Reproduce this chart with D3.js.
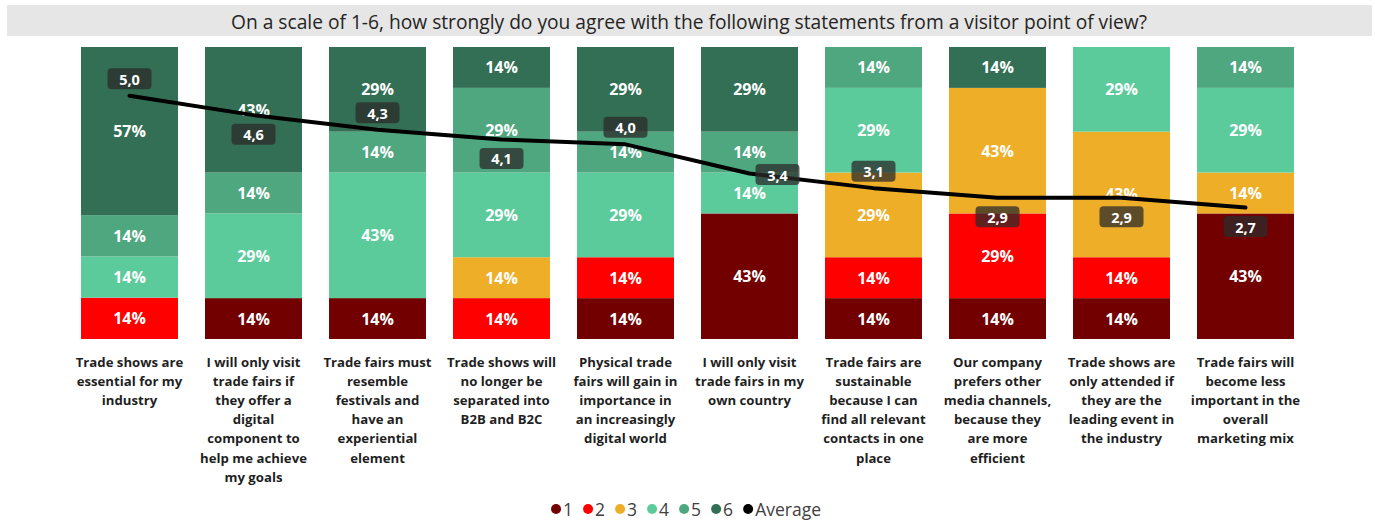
<!DOCTYPE html>
<html>
<head>
<meta charset="utf-8">
<script src="https://cdn.jsdelivr.net/npm/d3@7"></script>
<style>
  html, body { margin: 0; padding: 0; background: #fff; }
  svg { display: block; }
</style>
</head>
<body>
<svg id="chart" width="1375" height="520"></svg>
<script>
// ---- data ----
const title = "On a scale of 1-6, how strongly do you agree with the following statements from a visitor point of view?";

const categories = [
  "Trade shows are\nessential for my\nindustry",
  "I will only visit\ntrade fairs if\nthey offer a\ndigital\ncomponent to\nhelp me achieve\nmy goals",
  "Trade fairs must\nresemble\nfestivals and\nhave an\nexperiential\nelement",
  "Trade shows will\nno longer be\nseparated into\nB2B and B2C",
  "Physical trade\nfairs will gain in\nimportance in\nan increasingly\ndigital world",
  "I will only visit\ntrade fairs in my\nown country",
  "Trade fairs are\nsustainable\nbecause I can\nfind all relevant\ncontacts in one\nplace",
  "Our company\nprefers other\nmedia channels,\nbecause they\nare more\nefficient",
  "Trade shows are\nonly attended if\nthey are the\nleading event in\nthe industry",
  "Trade fairs will\nbecome less\nimportant in the\noverall\nmarketing mix"
];

const ratingKeys = ["1", "2", "3", "4", "5", "6"];

// share of answers (%) per rating, one value per statement
const rating1 = [0, 14, 14, 0, 14, 43, 14, 14, 14, 43];
const rating2 = [14, 0, 0, 14, 14, 0, 14, 29, 14, 0];
const rating3 = [0, 0, 0, 14, 0, 0, 29, 43, 43, 14];
const rating4 = [14, 29, 43, 29, 29, 14, 29, 0, 29, 29];
const rating5 = [14, 14, 14, 29, 14, 14, 14, 0, 0, 14];
const rating6 = [57, 43, 29, 14, 29, 29, 0, 14, 0, 0];

// mean rating per statement
const averages = [5.0, 4.6, 4.3, 4.1, 4.0, 3.4, 3.1, 2.9, 2.9, 2.7];

const legendLabels = ["1", "2", "3", "4", "5", "6", "Average"];

// ---- drawing ----
const FONT = "'Open Sans', 'Noto Sans', sans-serif";
const colors = {
  "1": "#730000",
  "2": "#fe0000",
  "3": "#efae27",
  "4": "#5ccb9b",
  "5": "#4fa780",
  "6": "#326f54",
  "Average": "#000000"
};

const svg = d3.select("#chart");

const ratingCols = [rating1, rating2, rating3, rating4, rating5, rating6];
const rows = categories.map((c, i) => {
  const r = { idx: i, category: c };
  ratingKeys.forEach((k, j) => { r[k] = ratingCols[j][i]; });
  return r;
});

// each column is normalised to its full height
const stack = d3.stack().keys(ratingKeys).offset(d3.stackOffsetExpand);
const layers = stack(rows);

const plotTop = 47, plotBottom = 339;
const x = d3.scaleBand()
  .domain(d3.range(categories.length))
  .range([67.5, 1307.5])
  .paddingInner(0.218)
  .paddingOuter(0.109);
const y = d3.scaleLinear().domain([0, 1]).range([plotBottom, plotTop]);
const yAvg = d3.scaleLinear().domain([0, 6]).range([plotBottom, plotTop]);

// title band
svg.append("rect")
  .attr("x", 7).attr("y", 5).attr("width", 1365).attr("height", 31)
  .attr("fill", "#e6e6e6");
const titleText = svg.append("text")
  .attr("x", 689).attr("y", 21)
  .attr("text-anchor", "middle").attr("dominant-baseline", "central")
  .attr("font-family", FONT).attr("font-size", 17)
  .attr("fill", "#252423")
  .text(title);
{
  const w = titleText.node().getComputedTextLength();
  const target = 916;
  titleText.attr("font-size", (17 * target / w).toFixed(2));
}

// stacked segments
const gBars = svg.append("g");
layers.forEach(layer => {
  const key = layer.key;
  const g = gBars.append("g").attr("fill", colors[key]);
  g.selectAll("rect")
    .data(layer)
    .join("rect")
    .attr("x", d => x(d.data.idx))
    .attr("width", x.bandwidth())
    .attr("y", d => y(d[1]))
    .attr("height", d => Math.max(0, y(d[0]) - y(d[1])));
});

// segment value labels
const gSegLabels = svg.append("g")
  .attr("font-family", FONT).attr("font-weight", 700)
  .attr("font-size", 16).attr("fill", "#ffffff")
  .attr("text-anchor", "middle");
layers.forEach(layer => {
  const key = layer.key;
  gSegLabels.selectAll(null)
    .data(layer.filter(d => d.data[key] > 0))
    .join("text")
    .attr("x", d => x(d.data.idx) + x.bandwidth() / 2)
    .attr("y", d => (y(d[0]) + y(d[1])) / 2)
    .attr("dominant-baseline", "central")
    .text(d => d.data[key] + "%");
});

// average line
const cx = i => x(i) + x.bandwidth() / 2;
const line = d3.line()
  .x((d, i) => cx(i))
  .y(d => yAvg(d));
svg.append("path")
  .datum(averages)
  .attr("d", line)
  .attr("fill", "none")
  .attr("stroke", "#000")
  .attr("stroke-width", 4)
  .attr("stroke-linejoin", "round")
  .attr("stroke-linecap", "round");

// average value labels (placed to keep clear of the line)
const avgPlacement = ["above", "below", "above", "below", "above", "right", "above", "below", "below", "below"];
const fmt = v => d3.format(".1f")(v).replace(".", ",");
const gAvg = svg.append("g");
averages.forEach((v, i) => {
  const p = avgPlacement[i];
  let lx = cx(i), ly = yAvg(v);
  if (p === "above") ly -= 17;
  else if (p === "below") ly += 19;
  else if (p === "right") { lx += 28; ly += 1; }
  const bw = 44, bh = 21;
  gAvg.append("rect")
    .attr("x", lx - bw / 2).attr("y", ly - bh / 2)
    .attr("width", bw).attr("height", bh)
    .attr("rx", 4)
    .attr("fill", "#2b2b2b").attr("fill-opacity", 0.75);
  gAvg.append("text")
    .attr("x", lx).attr("y", ly + 0.5)
    .attr("text-anchor", "middle").attr("dominant-baseline", "central")
    .attr("font-family", FONT).attr("font-weight", 700).attr("font-size", 14.5)
    .attr("fill", "#fff")
    .text(fmt(v));
});

// category axis labels
const gCat = svg.append("g")
  .attr("font-family", FONT).attr("font-weight", 700)
  .attr("font-size", 13.2).attr("fill", "#1f1f1f")
  .attr("text-anchor", "middle");
categories.forEach((c, i) => {
  const t = gCat.append("text").attr("x", cx(i)).attr("y", 362);
  c.split("\n").forEach((ln, k) => {
    t.append("tspan")
      .attr("x", cx(i))
      .attr("y", 362 + k * 19.1)
      .attr("dominant-baseline", "central")
      .text(ln);
  });
});

// legend
const gLeg = svg.append("g")
  .attr("font-family", FONT).attr("font-size", 17.5).attr("fill", "#404040");
const items = [];
legendLabels.forEach((lab) => {
  const g = gLeg.append("g");
  g.append("circle").attr("cx", 5).attr("cy", 0).attr("r", 5).attr("fill", colors[lab]);
  const t = g.append("text").attr("x", 12).attr("y", 0)
    .attr("dominant-baseline", "central").text(lab);
  const tw = t.node().getComputedTextLength();
  items.push({ g, w: 12 + tw });
});
const gap = 10;
const totalW = d3.sum(items, d => d.w) + gap * (items.length - 1);
let start = 686 - totalW / 2;
items.forEach(it => {
  it.g.attr("transform", `translate(${start},509)`);
  start += it.w + gap;
});
</script>
</body>
</html>
